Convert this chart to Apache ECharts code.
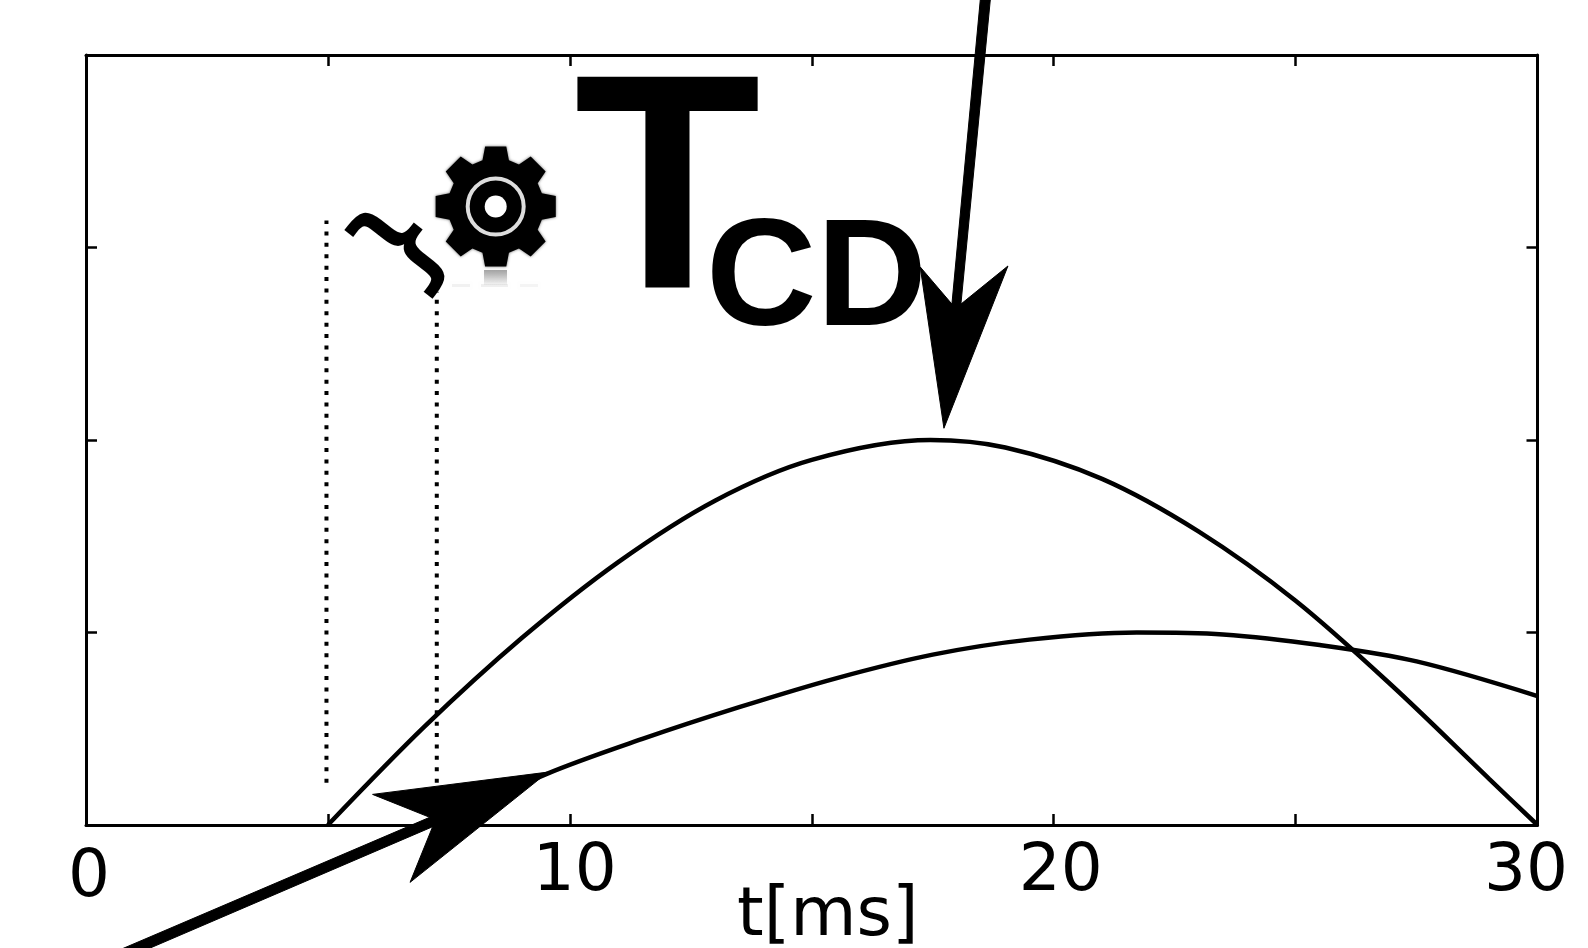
<!DOCTYPE html>
<html><head><meta charset="utf-8">
<style>html,body{margin:0;padding:0;background:#fff}#c{width:1588px;height:948px}</style>
<script src="https://cdn.jsdelivr.net/npm/echarts@6/dist/echarts.min.js"></script>
</head><body><div id="c"></div>
<script>
const curveUpper = [[5,0],[7,0.512],[9,0.97],[11,1.366],[13,1.685],[15,1.897],[17.45,2],[19,1.961],[21,1.798],[23,1.524],[25,1.165],[27,0.722],[29,0.24],[30,0]];
const curveLower = [[7.25,0],[9.5,0.263],[11.5,0.447],[13.5,0.612],[15.5,0.762],[17.5,0.885],[19.5,0.963],[21.72,1],[23.5,0.99],[25.5,0.935],[27.5,0.85],[30,0.67]];
const dottedLeft = [[4.97,0.22],[4.97,3.14]];
const dottedRight = [[7.25,0.22],[7.25,2.77]];
const arrowDown = [[18.483,4.286],[18.69,4.286],[18.083,2.706],[19.055,2.904],[17.732,2.061],[17.242,2.899],[17.897,2.706]];
const arrowUp = [[0.693,-0.649],[1.234,-0.649],[7.164,-0.009],[6.698,-0.298],[9.551,0.275],[5.923,0.159],[7.104,0.04]];
const tickLabels = {0:'0',10:'10',20:'20',30:'30'};
const axisTitle = 't[ms]';

const INK = '#000';
function gearPoints(cx, cy) {
  const pts = [];
  const rad = d => d * Math.PI / 180;
  for (let k = 0; k < 8; k++) {
    const a = k * 45 - 90;
    [[48,-16],[61,-10],[61,10],[48,16]].forEach(p => {
      pts.push([cx + p[0] * Math.cos(rad(a + p[1])), cy + p[0] * Math.sin(rad(a + p[1]))]);
    });
  }
  return pts;
}
function lineSeries(data) {
  return {type:'line', data, symbol:'none', silent:true, smooth:0.33, lineStyle:{color:INK, width:4.5}};
}
function dotted(data) {
  return {type:'line', data, symbol:'none', silent:true,
    lineStyle:{color:INK, width:4, type:[4,7.4]}};
}
function arrow(data) {
  return {type:'custom', silent:true, z:5, clip:false, data:[0],
    renderItem:(p, api) => ({type:'polygon', shape:{points:data.map(d => api.coord(d))}, style:{fill:INK, stroke:INK, lineWidth:1}})};
}
const axisCommon = {min:0, axisLine:{show:true, onZero:false, lineStyle:{color:INK, width:3}},
  axisTick:{show:true, inside:true, length:11, lineStyle:{color:INK, width:2.5}}, splitLine:{show:false}};
const labelRich = {
  a:{padding:[15,0,0,6], fontSize:66, fontFamily:'DejaVu Sans', color:INK},
  b:{padding:[9,0,0,10], fontSize:66, fontFamily:'DejaVu Sans', color:INK},
  c:{padding:[9,0,0,14], fontSize:66, fontFamily:'DejaVu Sans', color:INK},
  d:{padding:[9,23,0,0], fontSize:66, fontFamily:'DejaVu Sans', color:INK}
};
const labelStyle = {0:'a',10:'b',20:'c',30:'d'};
const option = {
  animation:false, backgroundColor:'#fff',
  grid:{left:86, right:50.5, top:55, bottom:123, containLabel:false, outerBoundsMode:'none'},
  xAxis:[
    Object.assign({}, axisCommon, {type:'value', max:30, interval:5, position:'bottom',
      name:axisTitle, nameLocation:'middle', nameGap:58, nameMoveOverlap:false,
      nameTextStyle:{fontSize:68, fontFamily:'DejaVu Sans', color:INK, padding:[0,0,0,32]},
      axisLabel:{show:true, margin:6, showMinLabel:true, showMaxLabel:true, hideOverlap:false,
        formatter:v => tickLabels[v] !== undefined ? '{' + labelStyle[v] + '|' + tickLabels[v] + '}' : '',
        rich:labelRich}}),
    Object.assign({}, axisCommon, {type:'value', max:30, interval:5, position:'top', axisLabel:{show:false}})
  ],
  yAxis:[
    Object.assign({}, axisCommon, {type:'value', max:4, interval:1, position:'left', axisLabel:{show:false}}),
    Object.assign({}, axisCommon, {type:'value', max:4, interval:1, position:'right', axisLabel:{show:false}})
  ],
  series:[lineSeries(curveUpper), lineSeries(curveLower), dotted(dottedLeft), dotted(dottedRight), arrow(arrowDown), arrow(arrowUp)],
  graphic:[
    {type:'text', z:10, x:574, y:50, style:{text:'T', font:'bold 306px "Liberation Sans"', fill:INK, verticalAlign:'top'}},
    {type:'text', z:10, x:706, y:206, style:{text:'CD', font:'bold 153px "Liberation Sans"', fill:INK, verticalAlign:'top'}},
    {type:'text', z:10, x:407, y:248, rotation:52*Math.PI/180, style:{text:'}', font:'118px "DejaVu Sans"', fill:INK, stroke:INK, lineWidth:3, align:'center', verticalAlign:'middle'}},
    {type:'rect', z:8, shape:{x:484,y:270,width:23,height:15}, style:{fill:{type:'linear',x:0,y:0,x2:0,y2:1,colorStops:[{offset:0,color:'rgba(0,0,0,0.35)'},{offset:1,color:'rgba(0,0,0,0.03)'}]}, shadowBlur:4, shadowColor:'rgba(0,0,0,0.1)'}},
    {type:'rect', z:8, shape:{x:452,y:284,width:18,height:3}, style:{fill:'rgba(0,0,0,0.05)', shadowBlur:3, shadowColor:'rgba(0,0,0,0.05)'}},
    {type:'rect', z:8, shape:{x:481,y:284,width:27,height:3}, style:{fill:'rgba(0,0,0,0.06)', shadowBlur:3, shadowColor:'rgba(0,0,0,0.05)'}},
    {type:'rect', z:8, shape:{x:520,y:284,width:18,height:3}, style:{fill:'rgba(0,0,0,0.04)', shadowBlur:3, shadowColor:'rgba(0,0,0,0.05)'}},
    {type:'polygon', z:9, shape:{points:gearPoints(495.7,206.5)}, style:{fill:INK, shadowBlur:3, shadowColor:'rgba(0,0,0,0.6)'}},
    {type:'circle', z:10, shape:{cx:495.7,cy:206.5,r:28}, style:{fill:INK, stroke:'#ddd', lineWidth:4}},
    {type:'circle', z:11, shape:{cx:495.7,cy:206.5,r:11}, style:{fill:'#fff'}}
  ]
};
echarts.init(document.getElementById('c'), null, {renderer:'canvas'}).setOption(option);
</script></body></html>
